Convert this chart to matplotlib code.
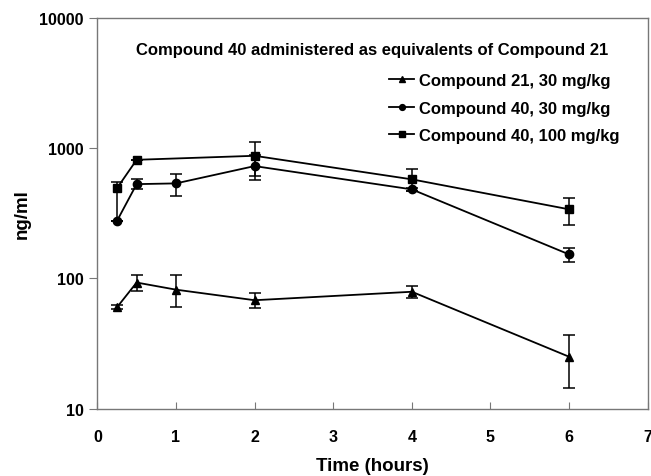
import matplotlib
matplotlib.use("Agg")
import matplotlib.pyplot as plt
from matplotlib.ticker import FixedLocator, NullLocator

plt.rcParams['font.family'] = ['Liberation Sans', 'DejaVu Sans']
plt.rcParams['font.weight'] = 'bold'

time = [0.25, 0.5, 1, 2, 4, 6]

# Compound 21, 30 mg/kg (triangles)
c21 = [60, 93, 82, 68, 79, 25]
c21_lo = [2, 13, 22, 9, 8, 10.7]
c21_hi = [2, 13, 25, 9, 9, 12]

# Compound 40, 30 mg/kg (circles)
c40 = [277, 531, 538, 731, 484, 153]
c40_lo = [0, 47, 107, 158, 10, 19]
c40_hi = [0, 47, 100, 158, 10, 19]

# Compound 40, 100 mg/kg (squares)
time_h = [0.25, 0.5, 2, 4, 6]
c40h = [494, 817, 877, 578, 340]
c40h_lo = [217, 0, 267, 110, 83]
c40h_hi = [58, 0, 247, 115, 75]

labels = ['Compound 21, 30 mg/kg', 'Compound 40, 30 mg/kg', 'Compound 40, 100 mg/kg']

fig = plt.figure(figsize=(6.51, 4.77), dpi=100)
ax = fig.add_axes([0.1495, 0.1415, 0.8455, 0.818])

kw = dict(color='black', lw=1.3, ms=6, capsize=4, elinewidth=1.1, capthick=1.1)
ax.errorbar(time, c21, yerr=[c21_lo, c21_hi], marker='^', label=labels[0], **kw)
ax.errorbar(time, c40, yerr=[c40_lo, c40_hi], marker='o', label=labels[1], **kw)
ax.errorbar(time_h, c40h, yerr=[c40h_lo, c40h_hi], marker='s', label=labels[2], **kw)

ax.set_yscale('log')
ax.set_ylim(10, 10000)
ax.set_xlim(0, 7)
ax.yaxis.set_major_locator(FixedLocator([10, 100, 1000, 10000]))
ax.yaxis.set_minor_locator(NullLocator())
ax.set_yticklabels(['10', '100', '1000', '10000'])
ax.set_xticks(range(8))

for s in ax.spines.values():
    s.set_color('#777777')
    s.set_linewidth(1.0)
ax.tick_params(axis='y', direction='out', length=6, color='#777777', labelsize=11.5, pad=4)
ax.tick_params(axis='x', direction='in', length=5, color='#777777', labelsize=11.5, pad=15)
for lbl in ax.get_xticklabels() + ax.get_yticklabels():
    lbl.set_fontweight('bold')

ax.set_xlabel('Time (hours)', fontsize=13.5, fontweight='bold', labelpad=9)
ax.set_ylabel('ng/ml', fontsize=13.5, fontweight='bold', labelpad=6)

ax.text(0.5, 0.921, 'Compound 40 administered as equivalents of Compound 21',
        transform=ax.transAxes, ha='center', va='center', fontsize=12, fontweight='bold')

handles, labs = ax.get_legend_handles_labels()
handles = [h[0] for h in handles]
leg = ax.legend(handles, labs, loc='upper right', bbox_to_anchor=(0.976, 0.898), frameon=False,
                fontsize=12, handlelength=1.5, handletextpad=0.3, labelspacing=0.75,
                markerscale=0.7)

fig.savefig('out.png', dpi=100)
